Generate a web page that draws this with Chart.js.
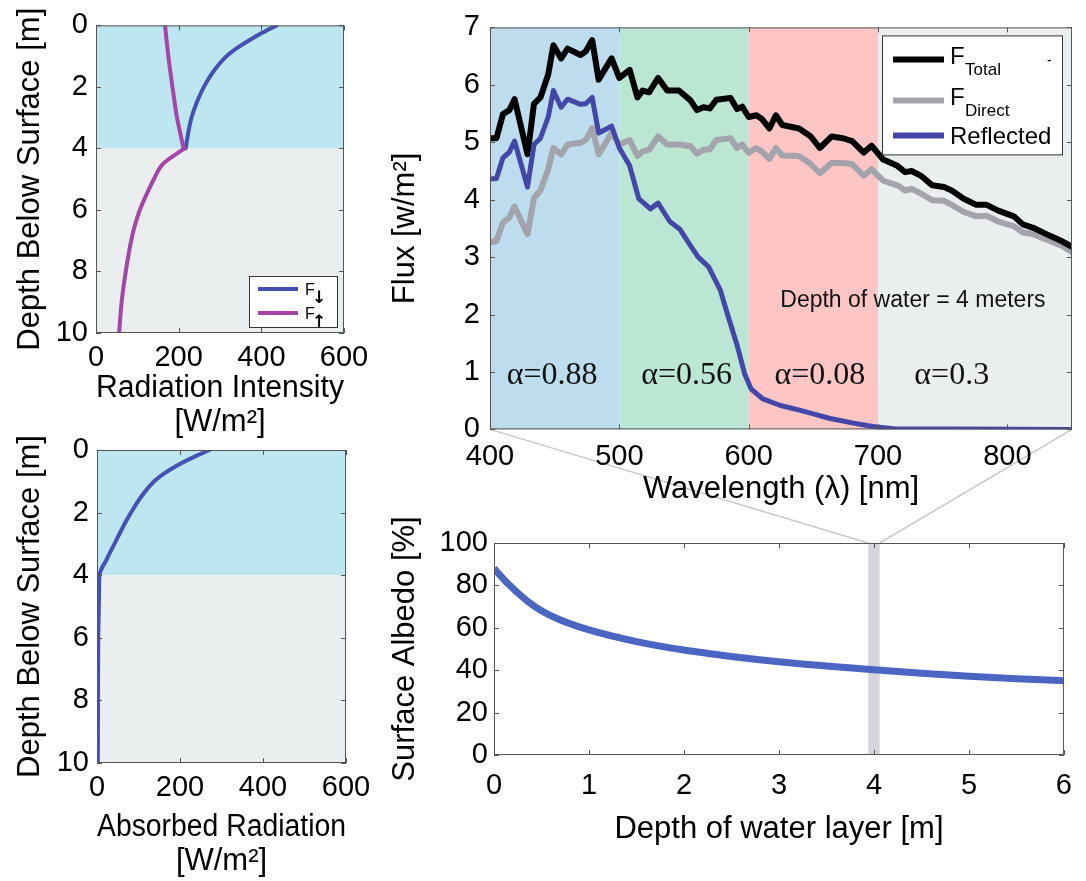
<!DOCTYPE html>
<html>
<head>
<meta charset="utf-8">
<title>Radiation in a melt pond</title>
<script src="https://cdn.jsdelivr.net/npm/chart.js@4.4.1/dist/chart.umd.min.js"></script>
<style>
  body { margin: 0; background: #fff; }
  #figure { position: relative; width: 1086px; height: 881px; overflow: hidden; }
  #figure canvas { position: absolute; }
  #links { z-index: 0; }
  .panel { z-index: 1; }
</style>
</head>
<body>
<div id="figure">
  <canvas id="links" width="1086" height="881" style="left:0;top:0"></canvas>
  <canvas id="profileChart" class="panel" width="380" height="440" style="left:0;top:0"></canvas>
  <canvas id="absorbedChart" class="panel" width="380" height="471" style="left:0;top:410px"></canvas>
  <canvas id="spectrumChart" class="panel" width="716" height="520" style="left:370px;top:0"></canvas>
  <canvas id="albedoChart" class="panel" width="716" height="381" style="left:370px;top:500px"></canvas>
</div>
<script>
// ---- data ----

// Downwelling / upwelling radiation vs depth (top left)
const depthDown = [0, 0.25, 0.5, 0.75, 1, 1.5, 2, 2.5, 3, 3.5, 4];
const fluxDown = [437, 401, 369, 340, 316, 284, 261, 244, 231, 223, 217];
const depthUpWater = [0, 1, 2, 3, 4];
const fluxUpWater = [167, 175, 185, 196, 212];
const depthUpIce = [4, 4.5, 5, 5.5, 6, 6.5, 7, 8, 9, 10];
const fluxUpIce = [214, 162, 140, 122, 106, 94, 85, 72, 62, 56];

// Absorbed radiation vs depth (bottom left)
const depthAbs = [0, 0.25, 0.5, 0.75, 1, 1.5, 2, 2.5, 3, 3.5, 4, 4.5, 6, 8, 10];
const absorbed = [271, 229, 192, 162, 138, 106, 82, 61, 42, 23, 6, 5, 3, 2.5, 2];

// Layers: water 0-4 m, ice below
const layerEdges = [0, 4, 10];
const layerColors = ['#bde6f1', '#ebeeee'];

// Spectrum (top right)
const wavelength = [400, 405, 410, 415, 419, 429, 434, 439, 445, 449, 455, 460, 470, 474, 479,
  484, 494, 500, 508, 514, 518, 523, 530, 537, 546, 555, 560, 565, 570, 575, 586, 591, 595, 600,
  606, 610, 616, 621, 626, 639, 648, 655, 664, 673, 680, 689, 695, 704, 715, 721, 726, 733, 742,
  751, 757, 766, 776, 784, 793, 805, 812, 820, 833, 842, 850];
const fluxTotal = [5.07, 5.07, 5.49, 5.56, 5.75, 4.79, 5.67, 5.78, 6.18, 6.69, 6.46, 6.63, 6.52, 6.58, 6.78,
  6.09, 6.46, 6.12, 6.26, 5.78, 5.90, 5.87, 6.12, 5.90, 5.90, 5.73, 5.56, 5.61, 5.59, 5.74, 5.77, 5.58, 5.62, 5.44,
  5.47, 5.41, 5.24, 5.47, 5.30, 5.24, 5.10, 4.90, 5.10, 5.07, 5.02, 4.82, 4.94, 4.70, 4.59, 4.48, 4.50, 4.42, 4.25,
  4.22, 4.16, 4.02, 3.91, 3.91, 3.81, 3.71, 3.57, 3.51, 3.37, 3.28, 3.18];
const fluxDirect = [3.26, 3.28, 3.60, 3.69, 3.88, 3.40, 4.03, 4.16, 4.53, 4.90, 4.79, 4.96, 4.99, 5.04, 5.24,
  4.79, 5.16, 4.96, 5.04, 4.76, 4.84, 4.87, 5.10, 4.96, 4.96, 4.93, 4.80, 4.87, 4.88, 5.04, 5.07, 4.90, 4.96, 4.82,
  4.90, 4.84, 4.71, 4.90, 4.77, 4.76, 4.62, 4.46, 4.64, 4.64, 4.62, 4.42, 4.53, 4.33, 4.25, 4.16, 4.19, 4.11, 3.99,
  3.98, 3.91, 3.79, 3.71, 3.72, 3.62, 3.54, 3.43, 3.40, 3.28, 3.20, 3.09];
const wavelengthRefl = [400, 405, 410, 415, 419, 429, 434, 439, 445, 449, 455, 460, 470, 474, 479, 484,
  494, 500, 508, 515, 524, 530, 539, 547, 555, 561, 569, 578, 584, 591, 597, 602, 611, 624, 640, 650,
  663, 681, 696, 712, 850];
const fluxReflected = [4.36, 4.37, 4.73, 4.83, 5.02, 4.22, 4.96, 5.07, 5.44, 5.90, 5.61, 5.75, 5.66, 5.67, 5.78, 5.16,
  5.28, 4.90, 4.59, 4.02, 3.84, 3.94, 3.62, 3.48, 3.20, 3.00, 2.83, 2.43, 1.98, 1.47, 0.96, 0.70, 0.53, 0.42, 0.33, 0.27,
  0.19, 0.11, 0.05, 0.01, 0];

// Colour bands and their albedo labels
const bandEdges = [400, 500, 600, 700, 850];
const bandColors = ['#bddcee', '#bbe6d3', '#fdc6c5', '#ebeeef'];
const alphaLabels = ['\u03b1=0.88', '\u03b1=0.56', '\u03b1=0.08', '\u03b1=0.3'];
const alphaAt = [448, 552, 655, 757];
const alphaLevel = 0.93;
const depthNote = 'Depth of water = 4 meters';
const depthNoteAt = [727, 2.24];

// Surface albedo vs depth of water layer (bottom right)
const waterDepth = [0, 0.1, 0.17, 0.25, 0.36, 0.5, 0.68, 1, 1.5, 2, 2.5, 3, 3.5, 4, 4.5, 5, 5.5, 6];
const albedo = [88, 83, 79.8, 76.5, 72.3, 68, 64, 59, 53.5, 49.5, 46.5, 44, 42, 40.2, 38.6, 37.2, 36, 35];
const markDepth = 4;
const markHalfWidth = 0.06;

// ---- helpers ----
const FONT = '"Liberation Sans", Arial, Helvetica, sans-serif';
Chart.defaults.font.family = FONT;
Chart.defaults.color = '#000';
Chart.defaults.animation = false;

const frameColor = '#555';
const toPoints = (xs, ys) => xs.map((v, i) => ({ x: v, y: ys[i] }));

function curve(points, color, width, extra = {}) {
    return Object.assign({
        data: points,
        showLine: true,
        borderColor: color,
        borderWidth: width,
        pointRadius: 0,
        borderJoinStyle: 'round',
        borderCapStyle: 'round',
        tension: 0
    }, extra);
}

function axis({ min, max, step, size, horizontal, title, titlePad, tickPad, reverse = false, includeBounds = true }) {
    return {
        type: 'linear', min, max, reverse,
        grid: { display: false, drawTicks: false },
        border: { display: false },
        ticks: { stepSize: step, padding: tickPad, font: { size: 29 }, color: '#000', includeBounds, maxRotation: 0, autoSkip: false },
        title: { display: true, text: title, color: '#000', font: { size: 31, lineHeight: 1.1 }, padding: titlePad },
        afterFit(scale) {
            if (horizontal) scale.height = size; else scale.width = size;
        }
    };
}

// MATLAB style box with inward ticks on all four sides
const boxPlugin = {
    id: 'box',
    afterDatasetsDraw(chart) {
        const { ctx, chartArea: a, scales: { x, y } } = chart;
        ctx.save();
        ctx.strokeStyle = frameColor;
        ctx.lineWidth = 1;
        ctx.beginPath();
        x.ticks.forEach(t => {
            const px = Math.round(x.getPixelForValue(t.value)) + 0.5;
            ctx.moveTo(px, a.bottom); ctx.lineTo(px, a.bottom - 5);
            ctx.moveTo(px, a.top); ctx.lineTo(px, a.top + 5);
        });
        y.ticks.forEach(t => {
            const py = Math.round(y.getPixelForValue(t.value)) + 0.5;
            ctx.moveTo(a.left, py); ctx.lineTo(a.left + 5, py);
            ctx.moveTo(a.right, py); ctx.lineTo(a.right - 5, py);
        });
        ctx.stroke();
        ctx.strokeRect(a.left + 0.5, a.top + 0.5, a.width - 1, a.height - 1);
        ctx.restore();
    }
};

// Coloured background bands along one axis
const bandPlugin = {
    id: 'bands',
    beforeDatasetsDraw(chart, args, opts) {
        const { ctx, chartArea: a } = chart;
        const scale = chart.scales[opts.axis];
        ctx.save();
        opts.colors.forEach((color, i) => {
            const p0 = scale.getPixelForValue(opts.edges[i]);
            const p1 = scale.getPixelForValue(opts.edges[i + 1]);
            ctx.fillStyle = color;
            if (opts.axis === 'x') ctx.fillRect(p0, a.top, p1 - p0, a.height);
            else ctx.fillRect(a.left, p0, a.width, p1 - p0);
        });
        ctx.restore();
    }
};

// depth profiles: smooth along the depth axis
const alongDepth = { indexAxis: 'y', cubicInterpolationMode: 'monotone' };

// ---- top left: radiation intensity ----
const profileLegend = {
    id: 'profileLegend',
    afterDraw(chart) {
        const { ctx, chartArea: a } = chart;
        const w = 88, h = 51;
        const left = a.right - 7 - w, top = a.bottom - 6 - h;
        ctx.save();
        ctx.fillStyle = '#fff';
        ctx.fillRect(left, top, w, h);
        ctx.strokeStyle = '#333';
        ctx.lineWidth = 1;
        ctx.strokeRect(left + 0.5, top + 0.5, w, h);
        [['#4650b0', '\u2193', 13], ['#a445a8', '\u2191', 37]].forEach(([color, arrow, ly]) => {
            ctx.strokeStyle = color;
            ctx.lineWidth = 4;
            ctx.beginPath();
            ctx.moveTo(left + 9, top + ly);
            ctx.lineTo(left + 49, top + ly);
            ctx.stroke();
            ctx.fillStyle = '#000';
            ctx.textBaseline = 'alphabetic';
            ctx.font = '16px ' + FONT;
            ctx.fillText('F', left + 56, top + ly + 6);
            ctx.font = 'bold 17px "DejaVu Sans", sans-serif';
            ctx.fillText(arrow, left + 63, top + ly + 14);
        });
        ctx.restore();
    }
};

const profileChart = new Chart(document.getElementById('profileChart'), {
    type: 'scatter',
    data: {
        datasets: [
            curve(toPoints(fluxUpWater, depthUpWater), '#a445a8', 4, alongDepth),
            curve(toPoints(fluxUpIce, depthUpIce), '#a445a8', 4, alongDepth),
            curve(toPoints(fluxDown, depthDown), '#4650b0', 4, alongDepth)
        ]
    },
    options: {
        responsive: false,
        layout: { padding: { top: 22, right: 36, left: 0, bottom: 0 } },
        plugins: {
            legend: { display: false }, tooltip: { enabled: false },
            bands: { axis: 'y', edges: layerEdges, colors: layerColors }
        },
        scales: {
            x: axis({ min: 0, max: 600, step: 200, size: 107, horizontal: true, tickPad: 8,
                title: ['Radiation Intensity', '[W/m\u00b2]'], titlePad: { top: 0, bottom: 0 } }),
            y: axis({ min: 0, max: 10, step: 2, size: 96, reverse: true, tickPad: 8,
                title: 'Depth Below Surface [m]', titlePad: { top: 13, bottom: 0 } })
        }
    },
    plugins: [bandPlugin, boxPlugin, profileLegend]
});

// ---- bottom left: absorbed radiation ----
const absorbedChart = new Chart(document.getElementById('absorbedChart'), {
    type: 'scatter',
    data: {
        datasets: [curve(toPoints(absorbed, depthAbs), '#4451b5', 4, alongDepth)]
    },
    options: {
        responsive: false,
        layout: { padding: { top: 40, right: 34, left: 0, bottom: 0 } },
        plugins: {
            legend: { display: false }, tooltip: { enabled: false },
            bands: { axis: 'y', edges: layerEdges, colors: layerColors }
        },
        scales: {
            x: axis({ min: 0, max: 600, step: 200, size: 118, horizontal: true, tickPad: 8,
                title: ['Absorbed Radiation', '[W/m\u00b2]'], titlePad: { top: 0, bottom: 2 } }),
            y: axis({ min: 0, max: 10, step: 2, size: 97, reverse: true, tickPad: 8,
                title: 'Depth Below Surface [m]', titlePad: { top: 13, bottom: 0 } })
        }
    },
    plugins: [bandPlugin, boxPlugin]
});

// ---- top right: spectrum ----
const spectrumLegend = {
    id: 'spectrumLegend',
    afterDraw(chart) {
        const { ctx, chartArea: a } = chart;
        const w = 180, h = 119;
        const left = a.right - 10 - w, top = a.top + 8;
        const rows = [
            { color: '#000000', main: 'F', sub: 'Total', ly: 24 },
            { color: '#a3a3ab', main: 'F', sub: 'Direct', ly: 65 },
            { color: '#4347a8', main: 'Reflected', sub: '', ly: 100 }
        ];
        ctx.save();
        ctx.fillStyle = '#fff';
        ctx.fillRect(left, top, w, h);
        ctx.strokeStyle = '#333';
        ctx.lineWidth = 1;
        ctx.strokeRect(left + 0.5, top + 0.5, w, h);
        ctx.textBaseline = 'alphabetic';
        rows.forEach(r => {
            ctx.strokeStyle = r.color;
            ctx.lineWidth = 6;
            ctx.beginPath();
            ctx.moveTo(left + 11, top + r.ly);
            ctx.lineTo(left + 62, top + r.ly);
            ctx.stroke();
            ctx.fillStyle = '#000';
            ctx.font = '24px ' + FONT;
            ctx.fillText(r.main, left + 68, top + r.ly + (r.sub ? 5 : 9));
            if (r.sub) {
                ctx.font = '17px ' + FONT;
                ctx.fillText(r.sub, left + 83, top + r.ly + 16);
            }
        });
        ctx.font = '14px ' + FONT;
        ctx.fillText('-', left + 165, top + 30);
        ctx.restore();
    }
};

const spectrumNotes = {
    id: 'spectrumNotes',
    afterDatasetsDraw(chart) {
        const { ctx, scales: { x, y } } = chart;
        ctx.save();
        ctx.fillStyle = '#111';
        ctx.textAlign = 'center';
        ctx.textBaseline = 'middle';
        ctx.font = '32px "Liberation Serif", "Times New Roman", serif';
        alphaLabels.forEach((txt, i) => ctx.fillText(txt, x.getPixelForValue(alphaAt[i]), y.getPixelForValue(alphaLevel)));
        ctx.font = '23px ' + FONT;
        ctx.fillText(depthNote, x.getPixelForValue(depthNoteAt[0]), y.getPixelForValue(depthNoteAt[1]));
        ctx.restore();
    }
};

const spectrumChart = new Chart(document.getElementById('spectrumChart'), {
    type: 'scatter',
    data: {
        datasets: [
            curve(toPoints(wavelength, fluxTotal), '#000000', 6, { order: 2 }),
            curve(toPoints(wavelength, fluxDirect), '#a3a3ab', 6, { order: 3 }),
            curve(toPoints(wavelengthRefl, fluxReflected), '#4347a8', 5, { order: 1 })
        ]
    },
    options: {
        responsive: false,
        layout: { padding: { top: 19, right: 14, left: 0, bottom: 0 } },
        plugins: {
            legend: { display: false }, tooltip: { enabled: false },
            bands: { axis: 'x', edges: bandEdges, colors: bandColors }
        },
        scales: {
            x: axis({ min: 400, max: 850, step: 100, size: 90.6, horizontal: true, tickPad: 10, includeBounds: false,
                title: 'Wavelength (\u03bb) [nm]', titlePad: { top: 0, bottom: 13 } }),
            y: axis({ min: 0, max: 7, step: 1, size: 120, tickPad: 10,
                title: 'Flux [w/m\u00b2]', titlePad: { top: 18, bottom: 0 } })
        }
    },
    plugins: [bandPlugin, boxPlugin, spectrumNotes, spectrumLegend]
});

// ---- bottom right: surface albedo ----
const depthMark = {
    id: 'depthMark',
    beforeDatasetsDraw(chart) {
        const { ctx, chartArea: a, scales: { x } } = chart;
        const p0 = x.getPixelForValue(markDepth - markHalfWidth);
        const p1 = x.getPixelForValue(markDepth + markHalfWidth);
        ctx.save();
        ctx.fillStyle = '#d4d4da';
        ctx.fillRect(p0, a.top, p1 - p0, a.height);
        ctx.restore();
    }
};

const albedoChart = new Chart(document.getElementById('albedoChart'), {
    type: 'scatter',
    data: {
        datasets: [curve(toPoints(waterDepth, albedo), '#4a66c2', 7, { cubicInterpolationMode: 'monotone', borderCapStyle: 'butt' })]
    },
    options: {
        responsive: false,
        layout: { padding: { top: 43, right: 12, left: 0, bottom: 0 } },
        plugins: { legend: { display: false }, tooltip: { enabled: false } },
        scales: {
            x: axis({ min: 0, max: 6, step: 1, size: 126, horizontal: true, tickPad: 14,
                title: 'Depth of water layer [m]', titlePad: { top: 0, bottom: 34 } }),
            y: axis({ min: 0, max: 100, step: 20, size: 124, tickPad: 6,
                title: 'Surface Albedo [%]', titlePad: { top: 18, bottom: 0 } })
        }
    },
    plugins: [depthMark, boxPlugin]
});

// ---- zoom lines from the spectrum axis down to the 4 m mark ----
function drawLinks(spectrum, albedoPlot) {
    const canvas = document.getElementById('links');
    const ctx = canvas.getContext('2d');
    const fig = canvas.getBoundingClientRect();
    const sBox = spectrum.canvas.getBoundingClientRect();
    const aBox = albedoPlot.canvas.getBoundingClientRect();
    const sa = spectrum.chartArea;
    const ax = albedoPlot.scales.x, ay = albedoPlot.scales.y;
    const from = [sa.left, sa.right].map(px => [sBox.left - fig.left + px, sBox.top - fig.top + sa.bottom]);
    const to = [markDepth - markHalfWidth, markDepth + markHalfWidth].map(d =>
        [aBox.left - fig.left + ax.getPixelForValue(d), aBox.top - fig.top + ay.getPixelForValue(ay.max)]);
    ctx.strokeStyle = '#c8c8c8';
    ctx.lineWidth = 1.5;
    ctx.beginPath();
    from.forEach((p, i) => { ctx.moveTo(p[0], p[1]); ctx.lineTo(to[i][0], to[i][1]); });
    ctx.stroke();
}

drawLinks(spectrumChart, albedoChart);
</script>
</body>
</html>
